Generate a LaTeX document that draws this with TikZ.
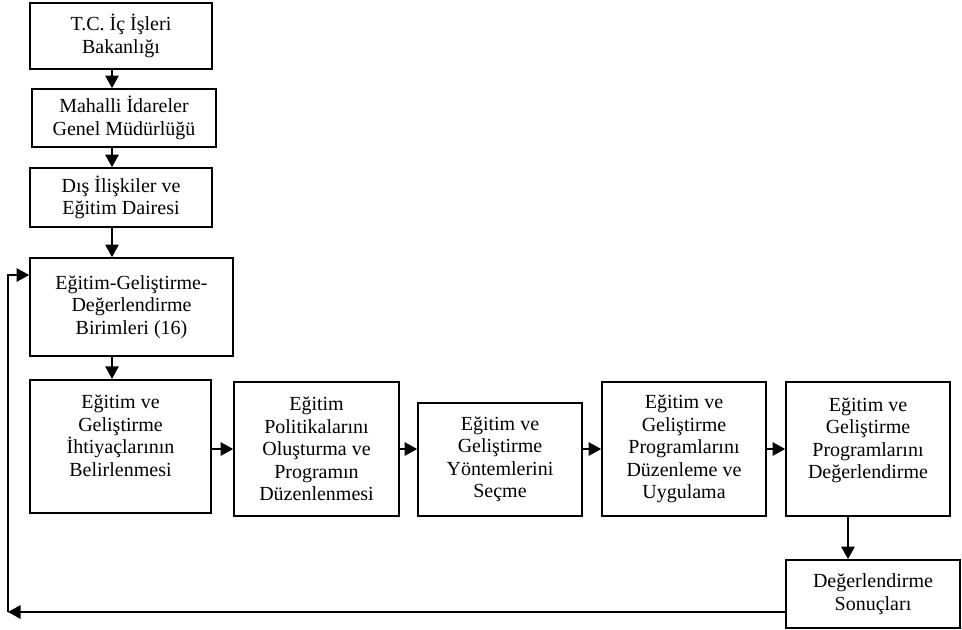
\documentclass[tikz,border=0pt]{standalone}
\usepackage{fontspec}
\setmainfont{Liberation Serif}
\usetikzlibrary{arrows.meta}
\begin{document}
\begin{tikzpicture}[x=0.6pt, y=-0.6pt, >={Triangle[width=8pt,length=7.5pt]},
		font=\fontsize{12}{13.5}\selectfont,
		kutu/.style={rectangle, draw, line width=1pt, align=center, inner sep=1pt},
		ustte/.style={text height=56.9pt, text depth=21.2pt},
		ok/.style={->, line width=1pt}]
	\useasboundingbox (0,0) rectangle (962,630);
	% top chain of the ministry
	\node[kutu, minimum width=109.2pt, minimum height=39.6pt] (bakan)   at (121,36)    {T.C. İç İşleri\\Bakanlığı};
	\node[kutu, minimum width=110.4pt, minimum height=34.8pt] (mahalli) at (124,118)   {Mahalli İdareler\\Genel Müdürlüğü};
	\node[kutu, minimum width=109.2pt, minimum height=35.4pt] (dis)     at (121,197.5) {Dış İlişkiler ve\\Eğitim Dairesi};
	\node[kutu, minimum width=121.8pt, minimum height=58.8pt] (birim)   at (131.5,307) {Eğitim-Geliştirme-\\Değerlendirme\\Birimleri (16)};
	% process row
	\node[kutu, ustte, minimum width=108.6pt, minimum height=79.8pt] (ihtiyac) at (120.5,446.5) {Eğitim ve\\Geliştirme\\İhtiyaçlarının\\Belirlenmesi};
	\node[kutu, minimum width=99pt,    minimum height=80.4pt] (politika) at (316.5,449)   {Eğitim\\Politikalarını\\Oluşturma ve\\Programın\\Düzenlenmesi};
	\node[kutu, minimum width=98.4pt,  minimum height=67.8pt] (yontem)   at (500,459.5)   {Eğitim ve\\Geliştirme\\Yöntemlerini\\Seçme};
	\node[kutu, minimum width=98.4pt,  minimum height=80.4pt] (uygulama) at (684,449)     {Eğitim ve\\Geliştirme\\Programlarını\\Düzenleme ve\\Uygulama};
	\node[kutu, ustte, minimum width=98.4pt, minimum height=80.4pt] (degerlen) at (868,449) {Eğitim ve\\Geliştirme\\Programlarını\\Değerlendirme};
	\node[kutu, minimum width=104.4pt, minimum height=40.8pt] (sonuc)    at (873,594)     {Değerlendirme\\Sonuçları};
	% helper coordinates
	\coordinate (ax)   at (112,0);
	\coordinate (rowy) at (0,449);
	\coordinate (fx)   at (848,0);
	\coordinate (geri) at (8,612);
	\coordinate (giris) at (0,275);
	% connectors
	\draw[ok] (bakan.south -| ax) -- (mahalli.north -| ax);
	\draw[ok] (mahalli.south -| ax) -- (dis.north -| ax);
	\draw[ok] (dis.south -| ax) -- (birim.north -| ax);
	\draw[ok] (birim.south -| ax) -- (ihtiyac.north -| ax);
	\draw[ok] (ihtiyac.east |- rowy) -- (politika.west |- rowy);
	\draw[ok] (politika.east |- rowy) -- (yontem.west |- rowy);
	\draw[ok] (yontem.east |- rowy) -- (uygulama.west |- rowy);
	\draw[ok] (uygulama.east |- rowy) -- (degerlen.west |- rowy);
	\draw[ok] (degerlen.south -| fx) -- (sonuc.north -| fx);
	% feedback loop
	\draw[ok] (sonuc.west |- geri) -- (geri);
	\draw[ok] (geri) |- (birim.west |- giris);
\end{tikzpicture}
\end{document}
